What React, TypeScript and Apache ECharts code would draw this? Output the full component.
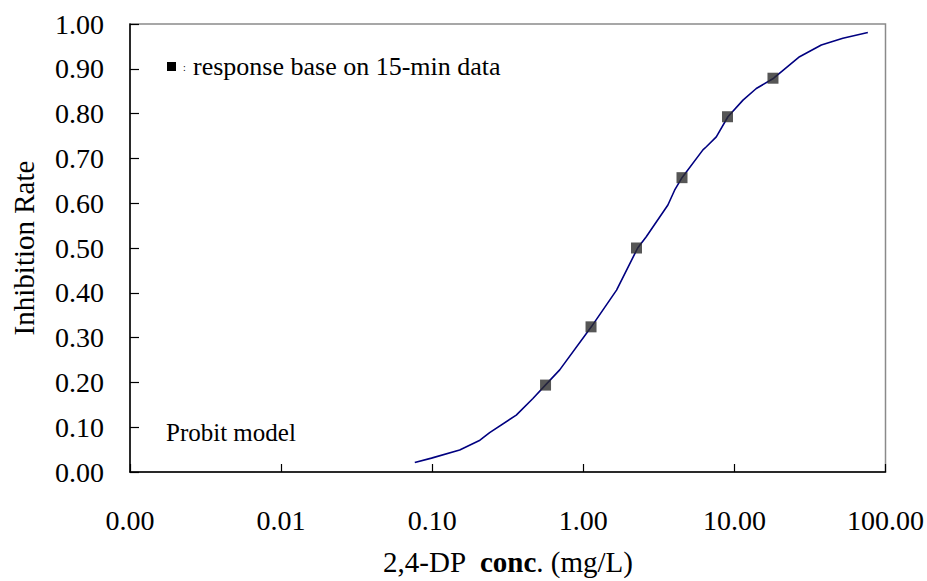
import React, { useEffect, useRef } from "react";
import * as echarts from "echarts";

// Fitted probit curve: [concentration mg/L, inhibition rate]
const curveX = [0.0767, 0.0989, 0.152, 0.207, 0.24, 0.36, 0.464, 0.561, 0.698, 1.13, 1.66, 2.29, 2.61, 3.63, 4.02, 4.5, 6.19, 6.52, 7.59, 9.06, 11.4, 13.96, 18.2, 27.0, 37.6, 52.2, 76.4];
const curveY = [0.021, 0.031, 0.049, 0.071, 0.088, 0.127, 0.164, 0.194, 0.228, 0.324, 0.406, 0.5, 0.525, 0.596, 0.629, 0.657, 0.719, 0.726, 0.748, 0.793, 0.83, 0.856, 0.879, 0.927, 0.953, 0.968, 0.981];

// Observed responses (15-min data)
const obsX = [0.5625, 1.125, 2.25, 4.5, 9.0, 18.0];
const obsY = [0.194, 0.324, 0.5, 0.657, 0.793, 0.879];

const xTickLabels = ["0.00", "0.01", "0.10", "1.00", "10.00", "100.00"];
const legendText = "response base on 15-min data";
const modelText = "Probit model";

const FONT = "Liberation Serif";

export default function App() {
  const ref = useRef<HTMLDivElement>(null);
  useEffect(() => {
    if (!ref.current) return;
    const chart = echarts.init(ref.current, undefined, { renderer: "svg" });
    const decades = [0.001, 0.01, 0.1, 1, 10, 100];
    chart.setOption({
      animation: false,
      backgroundColor: "#fff",
      textStyle: { fontFamily: FONT },
      grid: {
        left: 130,
        right: 41,
        top: 24,
        bottom: 109,
        show: true,
        borderColor: "#8a8a8a",
        borderWidth: 1.5,
      },
      xAxis: {
        type: "log",
        logBase: 10,
        min: 0.001,
        max: 100,
        name: "2,4-DP  {b|conc}. (mg/L)",
        nameLocation: "middle",
        nameGap: 75,
        nameTextStyle: {
          fontFamily: FONT,
          fontSize: 29,
          color: "#000",
          rich: { b: { fontFamily: FONT, fontSize: 29, fontWeight: "bold", color: "#000" } },
        },
        axisLine: { show: true, lineStyle: { color: "#000", width: 1.5 } },
        axisTick: { show: true, inside: true, length: 8, lineStyle: { color: "#000", width: 1.2 } },
        minorTick: { show: false },
        splitLine: { show: false },
        axisLabel: {
          fontFamily: FONT,
          fontSize: 28,
          color: "#000",
          margin: 34,
          formatter: (v: number) => {
            const i = decades.findIndex((d) => Math.abs(Math.log10(d) - Math.log10(v)) < 1e-6);
            return i >= 0 ? xTickLabels[i] : v.toFixed(2);
          },
        },
      },
      yAxis: {
        type: "value",
        min: 0,
        max: 1,
        interval: 0.1,
        name: "Inhibition Rate",
        nameLocation: "middle",
        nameGap: 92,
        nameTextStyle: { fontFamily: FONT, fontSize: 29, color: "#000" },
        axisLine: { show: true, lineStyle: { color: "#000", width: 1.5 } },
        axisTick: { show: true, inside: true, length: 9, lineStyle: { color: "#000", width: 1.2 } },
        splitLine: { show: false },
        axisLabel: {
          fontFamily: FONT,
          fontSize: 28,
          color: "#000",
          margin: 26,
          formatter: (v: number) => v.toFixed(2),
        },
      },
      series: [
        {
          name: "Probit model",
          type: "line",
          data: curveX.map((x, i) => [x, curveY[i]]),
          showSymbol: false,
          symbol: "none",
          smooth: false,
          lineStyle: { color: "#000080", width: 1.6 },
          z: 2,
        },
        {
          name: "15-min data",
          type: "scatter",
          data: obsX.map((x, i) => [x, obsY[i]]),
          symbol: "rect",
          symbolSize: 11,
          itemStyle: { color: "#2c2c2c" },
          z: 3,
        },
      ],
      graphic: [
        { type: "rect", shape: { x: 167, y: 62, width: 9, height: 9 }, style: { fill: "#000" } },
        { type: "text", x: 183, y: 62, style: { text: ":", fontFamily: FONT, fontSize: 10, fill: "#000" } },
        {
          type: "text",
          x: 193,
          y: 66,
          style: { text: legendText, fontFamily: FONT, fontSize: 26, fill: "#000", verticalAlign: "middle" },
        },
        {
          type: "text",
          x: 166,
          y: 432,
          style: { text: modelText, fontFamily: FONT, fontSize: 25, fill: "#000", verticalAlign: "middle" },
        },
      ],
    });
    return () => chart.dispose();
  }, []);
  return (
    <div
      ref={ref}
      style={{ position: "fixed", left: 0, top: 0, width: 927, height: 581, background: "#fff" }}
    />
  );
}
